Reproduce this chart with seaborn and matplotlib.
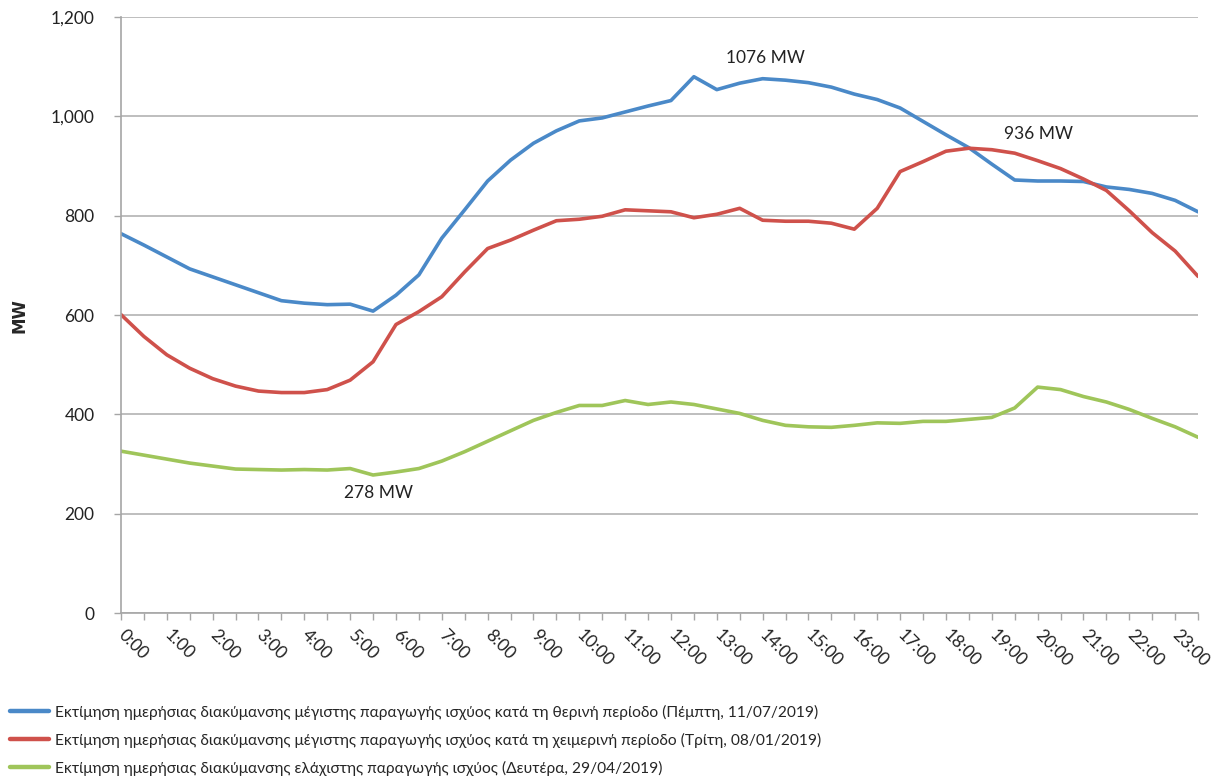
import numpy as np
import pandas as pd
import matplotlib
matplotlib.use("Agg")
import matplotlib.pyplot as plt
from matplotlib.ticker import FuncFormatter, FixedLocator
import seaborn as sns

# Half-hourly time slots 0:00 ... 23:30
times = [f"{h}:{m:02d}" for h in range(24) for m in (0, 30)]

summer_max = [764, 741, 717, 693, 677, 661, 645, 629, 624, 621, 622, 608,
              640, 681, 755, 812, 870, 912, 946, 971, 991, 997, 1009, 1021,
              1032, 1080, 1054, 1067, 1076, 1073, 1068, 1059, 1045, 1034, 1017, 990,
              963, 937, 904, 872, 870, 870, 869, 858, 853, 845, 831, 808]

winter_max = [601, 557, 520, 493, 472, 457, 447, 444, 444, 450, 469, 506,
              581, 607, 637, 687, 734, 751, 771, 790, 793, 799, 812, 810,
              808, 796, 803, 815, 791, 789, 789, 785, 773, 815, 889, 909,
              930, 936, 933, 926, 911, 895, 874, 851, 810, 766, 729, 678]

spring_min = [326, 318, 310, 302, 296, 290, 289, 288, 289, 288, 291, 278,
              284, 291, 306, 325, 346, 367, 388, 404, 418, 418, 428, 420,
              425, 420, 411, 402, 388, 378, 375, 374, 378, 383, 382, 386,
              386, 390, 394, 413, 455, 450, 436, 425, 410, 392, 375, 354]

series_labels = [
    "Εκτίμηση ημερήσιας διακύμανσης μέγιστης παραγωγής ισχύος κατά τη θερινή περίοδο (Πέμπτη, 11/07/2019)",
    "Εκτίμηση ημερήσιας διακύμανσης μέγιστης παραγωγής ισχύος κατά τη χειμερινή περίοδο (Τρίτη, 08/01/2019)",
    "Εκτίμηση ημερήσιας διακύμανσης ελάχιστης παραγωγής ισχύος (Δευτέρα, 29/04/2019)",
]
colors = ["#4A89C8", "#CF514B", "#9FC55A"]

y_ticks = [0, 200, 400, 600, 800, 1000, 1200]

df = pd.DataFrame({
    "slot": list(range(len(times))) * 3,
    "MW": summer_max + winter_max + spring_min,
    "series": sum([[lab] * len(times) for lab in series_labels], []),
})

sns.set_style("white")
plt.rcParams["font.family"] = ["Lato", "DejaVu Sans"]

fig = plt.figure(figsize=(12.11, 7.78), dpi=100)
ax = fig.add_axes([0.0999, 0.212, 0.8894, 0.766])

sns.lineplot(data=df, x="slot", y="MW", hue="series", palette=colors,
             linewidth=2.6, ax=ax, legend=False, sort=False)

n = len(times)
ax.set_xlim(0, n - 1)
ax.set_ylim(0, 1200)

# y axis
ax.yaxis.set_major_locator(FixedLocator(y_ticks))
ax.yaxis.set_major_formatter(FuncFormatter(lambda v, p: f"{int(v):,}"))
ax.grid(axis="y", color="#B3B3B3", linewidth=1.2)
ax.grid(axis="x", visible=False)
ax.set_axisbelow(True)
ax.tick_params(axis="y", length=5, width=1, color="#A6A6A6", pad=14,
               labelsize=12.5, labelcolor="#222222", left=True)

# x axis: a tick at every half-hour slot, a label on the hour
ax.set_xticks(range(n))
ax.set_xticklabels([t if t.endswith(":00") else "" for t in times])
ax.tick_params(axis="x", length=5, width=1, color="#A6A6A6", pad=9,
               labelsize=12.5, labelcolor="#222222", bottom=True)
for lab in ax.get_xticklabels():
    lab.set_rotation(-45)
    lab.set_rotation_mode("anchor")
    lab.set_ha("left")
    lab.set_va("center")

for side in ("top", "right"):
    ax.spines[side].set_visible(False)
for side in ("left", "bottom"):
    ax.spines[side].set_color("#A6A6A6")
    ax.spines[side].set_linewidth(1.2)

ax.set_xlabel("")
ax.set_ylabel("MW", fontsize=12, fontweight="bold", family="DejaVu Sans",
              va="center")
ax.yaxis.set_label_coords(-0.094, 0.5)

# value labels on the extreme points
def mark(series, idx, dx, dy):
    val = series[idx]
    ax.annotate(f"{val} MW", xy=(idx, val), xytext=(dx, dy),
                textcoords="offset pixels", ha="center", va="center",
                fontsize=12.5, color="#222222")

mark(summer_max, 28, 3, 21)
mark(winter_max, 37, 70, 14)
mark(spring_min, 11, 5, -18)

# legend below the plot
handles = [plt.Line2D([], [], color=c, linewidth=3.2) for c in colors]
fig.legend(handles, series_labels, loc="upper left",
           bbox_to_anchor=(0.008, 0.094), frameon=False, ncol=1,
           borderpad=0, borderaxespad=0,
           handlelength=2.5, handletextpad=0.42, labelspacing=0.82,
           prop={"family": ["Lato", "DejaVu Sans"], "size": 11.2})

fig.savefig("out.png", dpi=100)
